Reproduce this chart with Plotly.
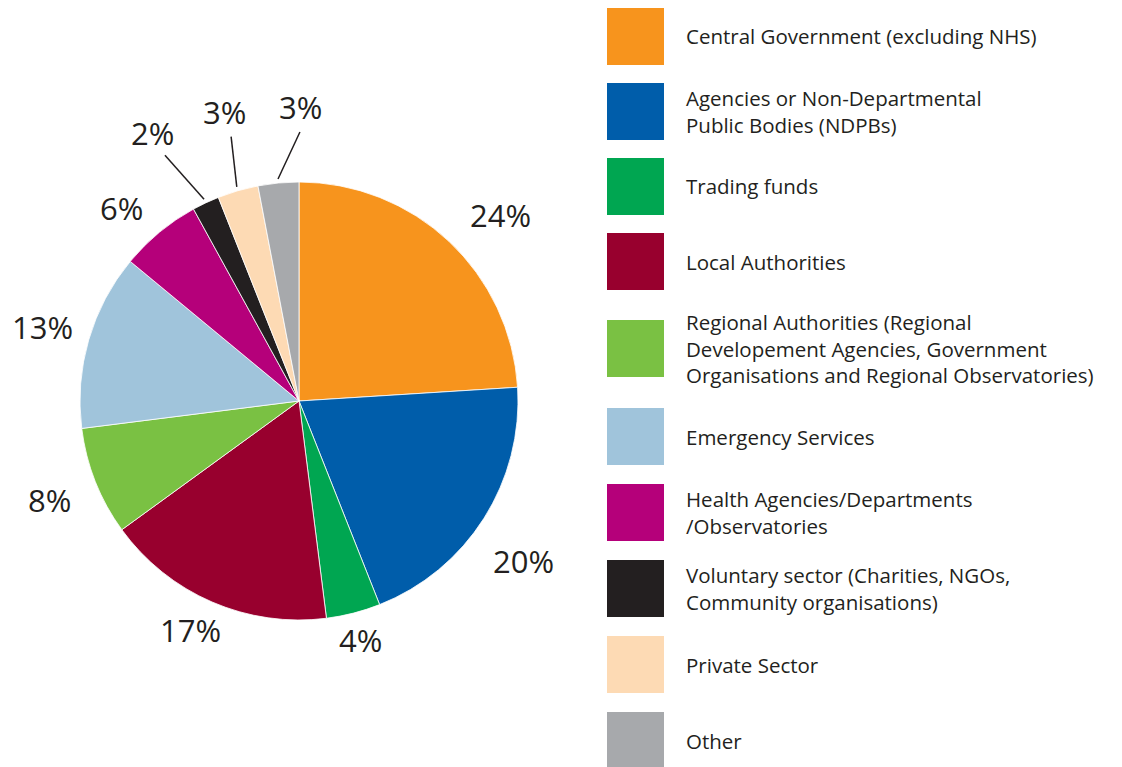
import math
import plotly.graph_objects as go

categories = [
    "Central Government (excluding NHS)",
    "Agencies or Non-Departmental<br>Public Bodies (NDPBs)",
    "Trading funds",
    "Local Authorities",
    "Regional Authorities (Regional<br>Developement Agencies, Government<br>Organisations and Regional Observatories)",
    "Emergency Services",
    "Health Agencies/Departments<br>/Observatories",
    "Voluntary sector (Charities, NGOs,<br>Community organisations)",
    "Private Sector",
    "Other",
]
values = [24, 20, 4, 17, 8, 13, 6, 2, 3, 3]
colors = ["#F7941D", "#005DAA", "#00A651", "#98002E", "#7AC143",
          "#A0C4DB", "#B5007A", "#231F20", "#FDDAB4", "#A7A9AC"]

# layout / style parameters (pixels)
W, H = 1122, 767
CX, CY, R = 299, 401, 219
label_r = [274, 276, 247, 254, 268, 267, 262, 305, 298, 294]
label_nudge = [4, 3, 0, 2, 0, 0, -3, -3.4, 1.8, 5.6]
leader = [False] * 7 + [True] * 3
legend_tops = [8, 83, 158, 233, 320, 408, 484, 560, 636, 712]
SQ = 57
TEXT = "#231F20"
FONT = "Open Sans"

def px(x):
    return x / W

def py(y):
    return 1 - y / H

fig = go.Figure(go.Pie(
    labels=[c.replace("<br>", " ") for c in categories],
    values=values,
    sort=False,
    direction="clockwise",
    rotation=0,
    marker=dict(colors=colors, line=dict(color="white", width=0.8)),
    textinfo="none",
    hoverinfo="label+percent",
    showlegend=False,
    domain=dict(x=[px(CX - R), px(CX + R)], y=[py(CY + R), py(CY - R)]),
))

annotations = []
shapes = []
total = sum(values)
cum = 0
for i, v in enumerate(values):
    mid = (cum + v / 2) / total * 360
    cum += v
    ang = math.radians(mid + label_nudge[i])
    lx = CX + label_r[i] * math.sin(ang)
    ly = CY - label_r[i] * math.cos(ang)
    annotations.append(dict(
        x=px(lx), y=py(ly), xref="paper", yref="paper",
        text=f"{round(v / total * 100)}%", showarrow=False,
        font=dict(family=FONT, size=31, color=TEXT),
        xanchor="center", yanchor="middle",
    ))
    if leader[i]:
        a0 = math.radians(mid)
        x0 = CX + (R + 4) * math.sin(a0)
        y0 = CY - (R + 4) * math.cos(a0)
        x1 = CX + (label_r[i] - 25) * math.sin(ang)
        y1 = CY - (label_r[i] - 25) * math.cos(ang)
        shapes.append(dict(type="line", xref="paper", yref="paper",
                           x0=px(x0), y0=py(y0), x1=px(x1), y1=py(y1),
                           line=dict(color=TEXT, width=1.5)))

for i, (cat, col) in enumerate(zip(categories, colors)):
    top = legend_tops[i]
    shapes.append(dict(type="rect", xref="paper", yref="paper",
                       x0=px(607), x1=px(664), y0=py(top), y1=py(top + SQ),
                       fillcolor=col, line=dict(width=0)))
    annotations.append(dict(
        x=px(684), y=py(top + SQ / 2), xref="paper", yref="paper",
        text=cat, showarrow=False, align="left",
        font=dict(family=FONT, size=20.5, color=TEXT),
        xanchor="left", yanchor="middle",
    ))

fig.update_layout(
    width=W, height=H,
    margin=dict(l=0, r=0, t=0, b=0),
    paper_bgcolor="white", plot_bgcolor="white",
    annotations=annotations, shapes=shapes,
)

fig.write_html("out.html", config={"displayModeBar": False},
               post_script="document.body.style.margin='0';")
